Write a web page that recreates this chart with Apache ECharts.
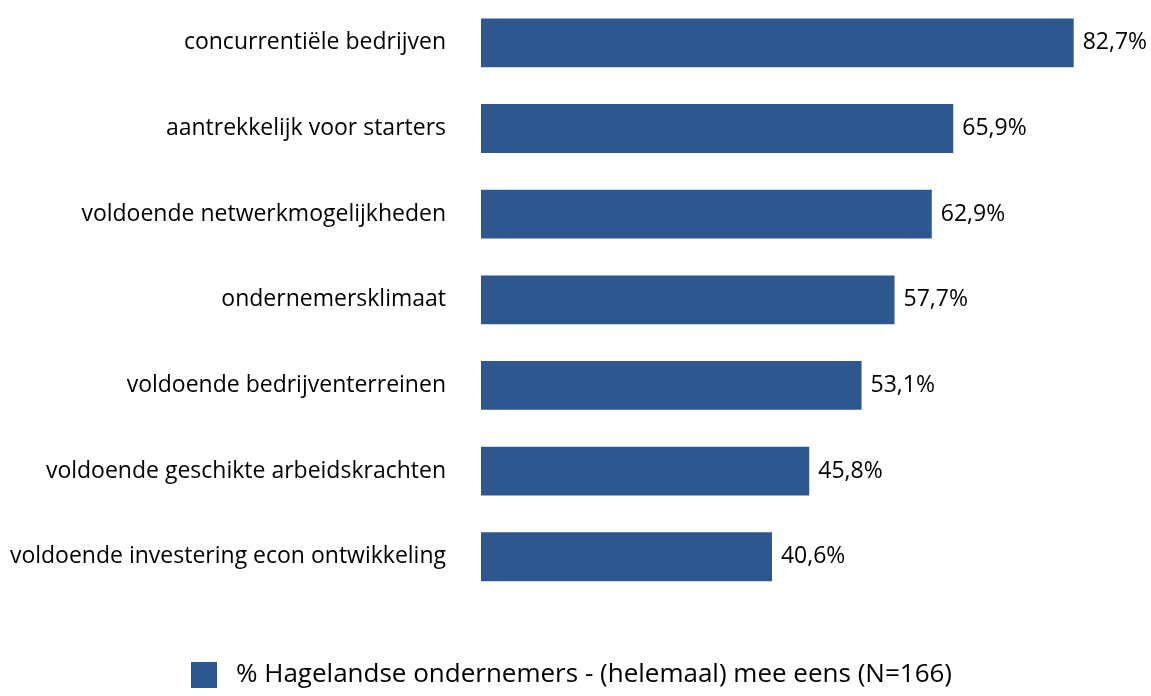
<!DOCTYPE html>
<html><head><meta charset="utf-8">
<script src="https://cdn.jsdelivr.net/npm/echarts@6/dist/echarts.min.js"></script>
<style>html,body{margin:0;padding:0;background:#fff}#c{width:1151px;height:696px}</style>
</head><body><div id="c"></div>
<script>
const categories = ["concurrentiële bedrijven","aantrekkelijk voor starters","voldoende netwerkmogelijkheden","ondernemersklimaat","voldoende bedrijventerreinen","voldoende geschikte arbeidskrachten","voldoende investering econ ontwikkeling"];
const values = [82.7, 65.9, 62.9, 57.7, 53.1, 45.8, 40.6];
const seriesName = "% Hagelandse ondernemers - (helemaal) mee eens (N=166)";
const FONT = "Open Sans";
const chart = echarts.init(document.getElementById('c'), null, {renderer:'canvas'});
chart.setOption({
  animation:false,
  grid:{left:481, width:645, top:-3.6, height:603.2, containLabel:false},
  xAxis:{type:'value', min:0, max:90, show:false},
  yAxis:{type:'category', inverse:true, data:categories,
    axisLine:{show:false}, axisTick:{show:false},
    axisLabel:{margin:35, fontFamily:FONT, fontSize:23, color:'#000'}},
  legend:{bottom:3, left:186, itemWidth:26, itemHeight:26, itemGap:10,
    textStyle:{fontFamily:FONT, fontSize:26, color:'#000', padding:[0,0,0,14]},
    data:[{name:seriesName, icon:'rect'}]},
  series:[{name:seriesName, type:'bar', data:values, barCategoryGap:'43%',
    itemStyle:{color:'#2E568F'},
    label:{show:true, position:'right', distance:9, fontFamily:FONT, fontSize:23, color:'#000',
      formatter:p=>p.value.toFixed(1).replace('.',',')+'%'}}]
});
</script></body></html>
